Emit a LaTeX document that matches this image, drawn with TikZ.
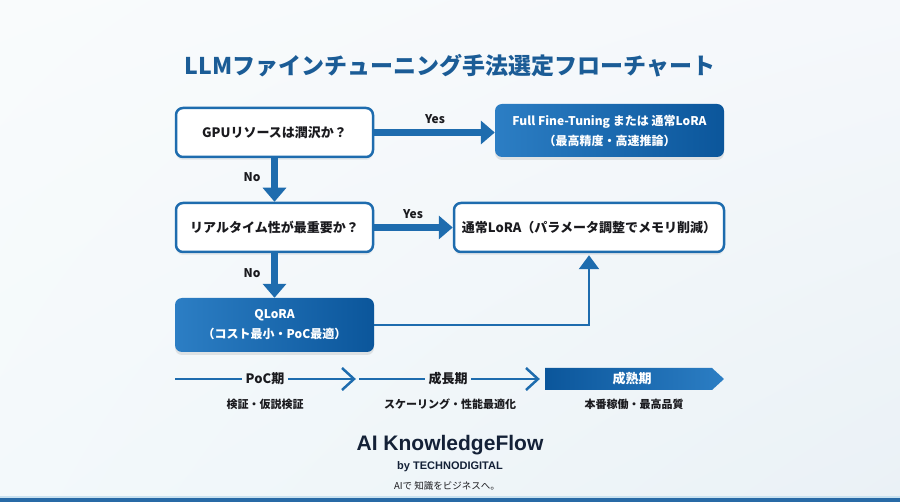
\documentclass[tikz,border=0pt]{standalone}
\usepackage{fontspec}
\setmainfont{Noto Sans CJK JP}
\newfontfamily\footfont{Liberation Sans}
\usetikzlibrary{arrows.meta,shadows,calc,shadings}
\definecolor{bl}{RGB}{30,108,174}
\definecolor{bldark}{RGB}{11,86,155}
\definecolor{bllight}{RGB}{44,126,196}
\definecolor{titlec}{RGB}{27,92,150}
\definecolor{txt}{RGB}{26,26,30}
\definecolor{navy}{RGB}{20,33,55}
\definecolor{bgul}{RGB}{249,251,252}
\definecolor{bgur}{RGB}{245,248,251}
\definecolor{bgll}{RGB}{243,249,251}
\definecolor{bglr}{RGB}{234,241,246}
\definecolor{barlight}{RGB}{200,225,240}
\definecolor{bar}{RGB}{40,106,166}
\tikzset{
  qbox/.style={draw=bl, line width=2.5pt, fill=white, rounded corners=7pt,
    text=txt, font=\bfseries\fontsize{13}{16}\selectfont, align=center,
    drop shadow={opacity=0.12, shadow xshift=0pt, shadow yshift=-3pt}},
  abox/.style={rounded corners=7pt, left color=bllight, right color=bldark,
    text=white, font=\bfseries\fontsize{12}{20}\selectfont, align=center,
    drop shadow={opacity=0.18, shadow xshift=0pt, shadow yshift=-3pt}},
  bigarrow/.style={draw=bl, line width=7pt, -{Triangle[width=23pt,length=14pt]}},
  thinarrow/.style={draw=bl, line width=2.5pt, -{Triangle[width=20pt,length=14pt]}},
  lbl/.style={text=txt, font=\bfseries\fontsize{12}{14}\selectfont},
  tline/.style={draw=bl, line width=2.5pt},
  phase/.style={text=txt, font=\bfseries\fontsize{13}{15}\selectfont},
  sub/.style={text=txt, font=\bfseries\fontsize{11}{13}\selectfont},
}
\begin{document}
\begin{tikzpicture}[x=1pt,y=-1pt]
\useasboundingbox (0,0) rectangle (900,502);
\shade[upper left=bgul, upper right=bgur, lower left=bgll, lower right=bglr]
  (0,0) rectangle (900,502);
% bottom bar
\fill[barlight] (0,496) rectangle (900,498);
\fill[bar] (0,498) rectangle (900,502);

% title
\node[text=titlec, font=\bfseries\fontsize{23}{26}\selectfont] (title) at (450,66) {LLMファインチューニング手法選定フローチャート};

% boxes
\node[qbox, minimum width=197pt, minimum height=49pt] (b1) at (274.5,132.5) {GPUリソースは潤沢か？};
\node[abox, minimum width=229pt, minimum height=53pt] (b2) at (609.5,130.5) {Full Fine-Tuning または 通常LoRA\\（最高精度・高速推論）};
\node[qbox, minimum width=197pt, minimum height=49pt] (b3) at (274.5,227.5) {リアルタイム性が最重要か？};
\node[qbox, minimum width=270pt, minimum height=49pt] (b4) at (589,227.5) {通常LoRA（パラメータ調整でメモリ削減）};
\node[abox, minimum width=199pt, minimum height=54pt] (q) at (274.5,325) {QLoRA\\（コスト最小・PoC最適）};

% arrows
\draw[bigarrow] (b1.east) -- (b1.east -| b2.west);
\draw[bigarrow] (b1.south) -- (b3.north);
\draw[bigarrow] (b3.east) -- (b4.west);
\draw[bigarrow] (b3.south) -- (q.north);
\draw[thinarrow, shorten >=2pt] (q.east) -| (b4.south);

% labels
\node[lbl] (y1) at (435,119) {Yes};
\node[lbl] (n1) at (252,177) {No};
\node[lbl] (y2) at (413,214) {Yes};
\node[lbl] (n2) at (252,273) {No};

% timeline
\shade[left color=bldark, right color=bllight] (545,368) -- (712,368) -- (724,379) -- (712,390) -- (545,390) -- cycle;
\node[phase] (p1) at (265,379) {PoC期};
\node[phase] (p2) at (448,379) {成長期};
\node[text=white, font=\bfseries\fontsize{13}{15}\selectfont] (p3) at (632,379) {成熟期};
\node[sub] (s1) at (265,404) {検証・仮説検証};
\node[sub] (s2) at (450,404) {スケーリング・性能最適化};
\node[sub] (s3) at (634,404) {本番稼働・最高品質};

\coordinate (l0) at (175,379);
\coordinate (c1) at (354,379);
\coordinate (l1) at (359,379);
\coordinate (c2) at (538,379);
\draw[tline] (l0) -- (p1.west);
\draw[tline] (p1.east) -- (c1);
\draw[tline, line join=miter] ($(c1)+(-12,-11)$) -- (c1) -- ($(c1)+(-12,11)$);
\draw[tline] (l1) -- (p2.west);
\draw[tline] (p2.east) -- (c2);
\draw[tline, line join=miter] ($(c2)+(-12,-11)$) -- (c2) -- ($(c2)+(-12,11)$);

% footer
\node[text=navy, font=\footfont\bfseries\fontsize{21}{24}\selectfont] (brand) at (450,445) {AI KnowledgeFlow};
\node[text=navy, font=\footfont\bfseries\fontsize{11}{13}\selectfont] (by) at (450,467) {by TECHNODIGITAL};
\node[text=txt, font=\fontsize{9.5}{11}\selectfont] (tag) at (447,486) {AIで 知識をビジネスへ。};
\end{tikzpicture}
\end{document}
